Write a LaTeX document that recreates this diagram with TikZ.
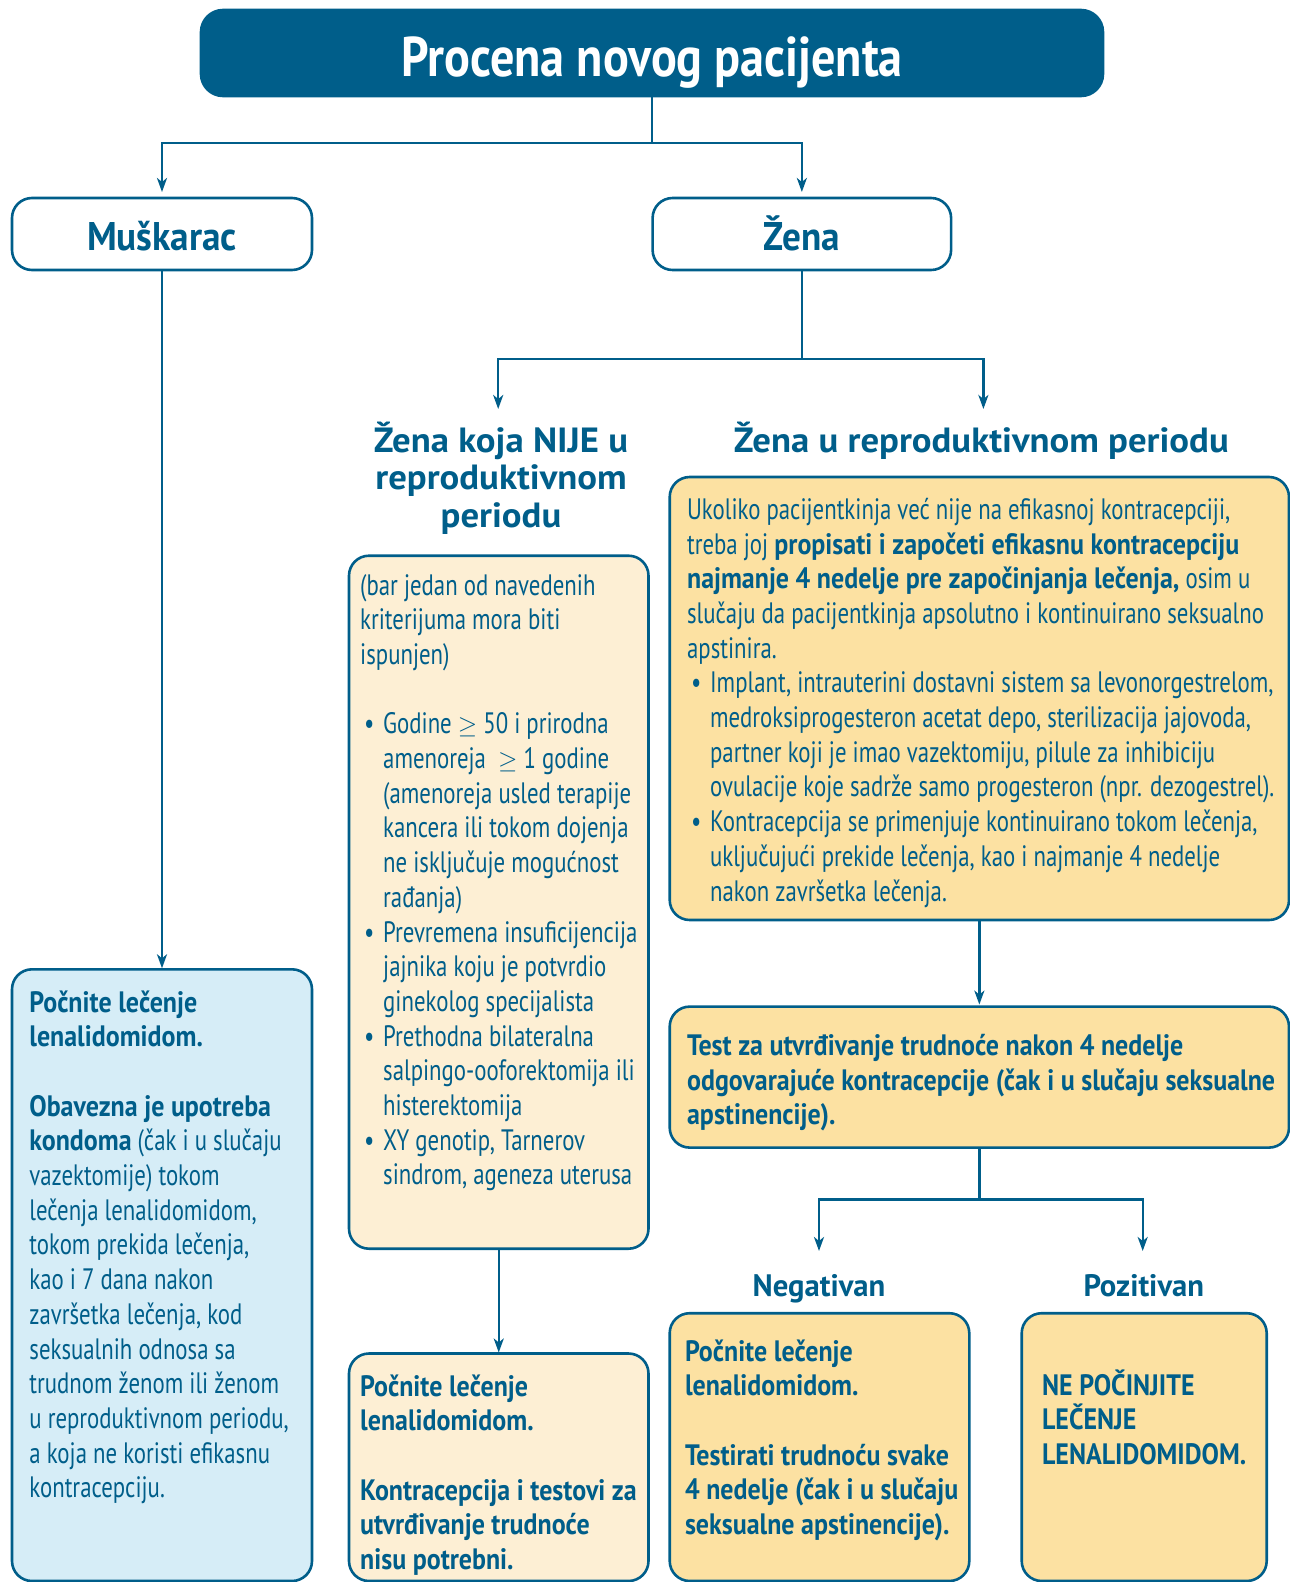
\documentclass[tikz,border=0pt]{standalone}
\usepackage{fontspec}
\setmainfont{PT Sans}[UprightFeatures={FakeStretch=0.773}, BoldFeatures={FakeStretch=0.88}]
\newfontfamily\headfont{PT Sans}[FakeStretch=1.05]
\newfontfamily\boxfont{PT Sans}[FakeStretch=0.93]
\newfontfamily\labelfont{PT Sans}[FakeStretch=0.99]
\newfontfamily\titlefont{PT Sans}[FakeStretch=0.86]
\usetikzlibrary{arrows.meta}

\definecolor{dkblue}{RGB}{0,94,138}
\definecolor{paleblue}{RGB}{214,237,247}
\definecolor{cream}{RGB}{253,239,212}
\definecolor{gold}{RGB}{252,225,162}

\newcommand{\itembul}{\hspace*{4pt}\makebox[19pt][l]{\textbullet}}
\newcommand{\itemind}{\hspace*{23pt}}

\tikzset{
  box/.style={draw=dkblue, line width=2.6pt, rounded corners=20pt, anchor=north west,
    outer sep=0pt, inner sep=0pt},
  % base anchor = baseline of the last line
  bodytext/.style={font=\fontsize{29.5}{34.7}\selectfont, align=left, anchor=base west,
    inner sep=0pt, text=dkblue},
  boldtext/.style={bodytext, font=\bfseries\fontsize{29.5}{34.7}\selectfont},
  headtext/.style={font=\headfont\bfseries\fontsize{35}{37.2}\selectfont, align=center,
    anchor=base, inner sep=0pt, text=dkblue},
  labeltext/.style={font=\labelfont\bfseries\fontsize{31}{34}\selectfont,
    anchor=base, inner sep=0pt, text=dkblue},
  conn/.style={draw=dkblue, line width=2.4pt},
}

\begin{document}
\begin{tikzpicture}[x=1pt, y=-1pt, >={Stealth[length=14pt,width=10pt,inset=4pt]}]
\useasboundingbox (0,0) rectangle (1290,1582);

% top level
\node[box, fill=dkblue, rounded corners=22pt, minimum width=902, minimum height=86,
  text=white, font=\titlefont\bfseries\fontsize{56}{60}\selectfont,
  text height=46pt, text depth=0pt] (title) at (201,10) {Procena novog pacijenta};
\node[box, fill=white, minimum width=300, minimum height=72, text=dkblue,
  font=\boxfont\bfseries\fontsize{40}{44}\selectfont,
  text height=32pt, text depth=0pt] (man) at (12,198) {Muškarac};
\node[box, fill=white, minimum width=298.5, minimum height=72, text=dkblue,
  font=\boxfont\bfseries\fontsize{40}{44}\selectfont,
  text height=32pt, text depth=0pt] (zena) at (652.6,198) {Žena};

\draw[conn] (title.south) -- ++(0,47) coordinate (split1);
\draw[conn,->,shorten >=6pt] (split1) -| (man);
\draw[conn,->,shorten >=6pt] (split1) -| (zena);

% zena branches
\node[headtext] (nije) at (501,527) {Žena koja NIJE u\\reproduktivnom\\periodu};
\node[headtext] (repro) at (981.4,452.7) {Žena u reproduktivnom periodu};
\coordinate (nije-in) at (498.2,409);
\coordinate (repro-in) at (983.4,409);
\draw[conn] (zena.south) -- ++(0,89) coordinate (split2);
\draw[conn,->] (split2) -| (nije-in);
\draw[conn,->] (split2) -| (repro-in);

% not reproductive
\node[box, fill=cream, minimum width=299.5, minimum height=693] (nijebox) at (349,555.7) {};
\node[bodytext] (nije-t) at (360,1184.9) {(bar jedan od navedenih\\
kriterijuma mora biti\\
ispunjen)\\[34.7pt]
\itembul Godine $\geq$ 50 i prirodna\\
\itemind amenoreja \ $\geq$ 1 godine\\
\itemind (amenoreja usled terapije\\
\itemind kancera ili tokom dojenja\\
\itemind ne isključuje mogućnost\\
\itemind rađanja)\\
\itembul Prevremena insuficijencija\\
\itemind jajnika koju je potvrdio\\
\itemind ginekolog specijalista\\
\itembul Prethodna bilateralna\\
\itemind salpingo-ooforektomija ili\\
\itemind histerektomija\\
\itembul XY genotip, Tarnerov\\
\itemind sindrom, ageneza uterusa};

\node[box, fill=cream, minimum width=299.5, minimum height=227.5] (nijestart) at (349,1353.5) {};
\node[boldtext] (nijestart-t) at (360,1569.5)
  {Počnite lečenje\\
lenalidomidom.\\[34.7pt]
Kontracepcija i testovi za\\
utvrđivanje trudnoće\\
nisu potrebni.};
\draw[conn,->,shorten >=1pt] (nijebox.south) -- (nijestart.north);

% reproductive
\node[box, fill=gold, minimum width=619.3, minimum height=443] (gold) at (669.7,477) {};
\node[bodytext] (gold-t) at (686.9,901) {Ukoliko pacijentkinja već nije na efikasnoj kontracepciji,\\
treba joj \textbf{propisati i započeti efikasnu kontracepciju}\\
\textbf{najmanje 4 nedelje pre započinjanja lečenja,} osim u\\
slučaju da pacijentkinja apsolutno i kontinuirano seksualno\\
apstinira.\\
\itembul Implant, intrauterini dostavni sistem sa levonorgestrelom,\\
\itemind medroksiprogesteron acetat depo, sterilizacija jajovoda,\\
\itemind partner koji je imao vazektomiju, pilule za inhibiciju\\
\itemind ovulacije koje sadrže samo progesteron (npr. dezogestrel).\\
\itembul Kontracepcija se primenjuje kontinuirano tokom lečenja,\\
\itemind uključujući prekide lečenja, kao i najmanje 4 nedelje\\
\itemind nakon završetka lečenja.};

\node[box, fill=gold, minimum width=619.3, minimum height=141] (test) at (669.7,1006.6) {};
\node[boldtext] (test-t) at (686.9,1124.9)
  {Test za utvrđivanje trudnoće nakon 4 nedelje\\
odgovarajuće kontracepcije (čak i u slučaju seksualne\\
apstinencije).};
\draw[conn,->,shorten >=2pt] (gold.south) -- (test.north);

\node[labeltext] (neg) at (819,1296) {Negativan};
\node[labeltext] (poz) at (1143.8,1296) {Pozitivan};
\coordinate (neg-in) at (819,1251);
\coordinate (poz-in) at (1142.7,1251);
\draw[conn] (test.south) -- ++(0,52) coordinate (split3);
\draw[conn,->] (split3) -| (neg-in);
\draw[conn,->] (split3) -| (poz-in);

\node[box, fill=gold, minimum width=299.6, minimum height=267.8] (negbox) at (669.7,1313.2) {};
\node[boldtext] (negbox-t) at (684.8,1534.5)
  {Počnite lečenje\\
lenalidomidom.\\[34.7pt]
Testirati trudnoću svake\\
4 nedelje (čak i u slučaju\\
seksualne apstinencije).};

\node[box, fill=gold, minimum width=245, minimum height=267.8] (pozbox) at (1021.7,1313.2) {};
\node[boldtext] (pozbox-t) at (1041.9,1464.4)
  {NE POČINJITE\\
LEČENJE\\
LENALIDOMIDOM.};

% men
\node[box, fill=paleblue, minimum width=300, minimum height=611.7] (manbox) at (12,969.3) {};
\node[bodytext] (manbox-t) at (29.2,1497.8) {\textbf{Počnite lečenje}\\
\textbf{lenalidomidom.}\\[34.7pt]
\textbf{Obavezna je upotreba}\\
\textbf{kondoma} (čak i u slučaju\\
vazektomije) tokom\\
lečenja lenalidomidom,\\
tokom prekida lečenja,\\
kao i 7 dana nakon\\
završetka lečenja, kod\\
seksualnih odnosa sa\\
trudnom ženom ili ženom\\
u reproduktivnom periodu,\\
a koja ne koristi efikasnu\\
kontracepciju.};
\draw[conn,->,shorten >=1pt] (man.south) -- (manbox.north);
\end{tikzpicture}
\end{document}
